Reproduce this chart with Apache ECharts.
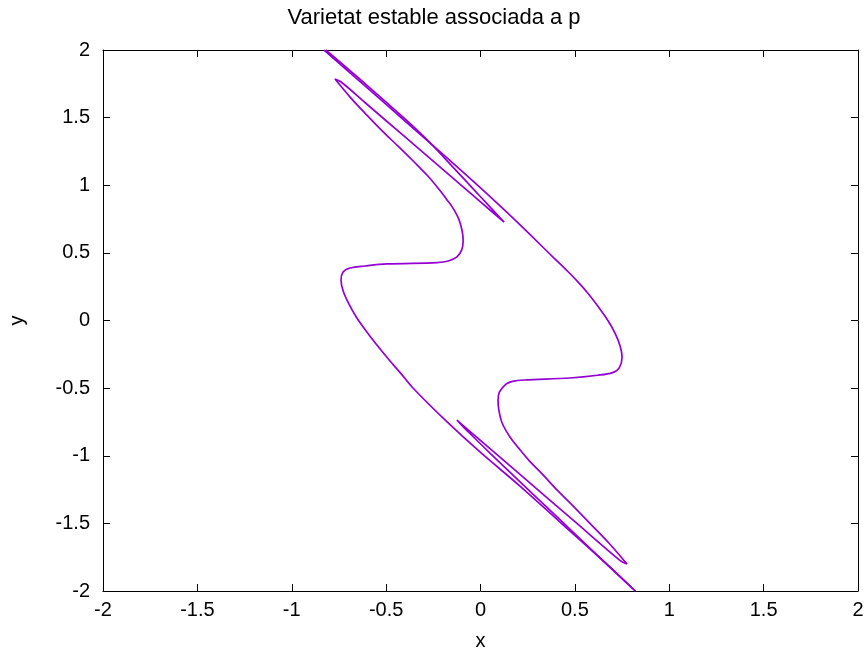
<!DOCTYPE html>
<html>
<head>
<meta charset="utf-8">
<script src="https://cdn.jsdelivr.net/npm/echarts@6/dist/echarts.min.js"></script>
<style>
  html, body { margin: 0; padding: 0; background: #fff; }
  #chart { width: 868px; height: 655px; }
</style>
</head>
<body>
<div id="chart"></div>
<script>
'use strict';

// Branch from the top end: down the band, round the right side of the S, into the lower loop
const branchA = [
  [-0.829, 2.0], [-0.6, 1.72], [-0.4, 1.475], [-0.2, 1.23], [0.0, 0.98],
  [0.2, 0.72], [0.384, 0.469], [0.45, 0.38], [0.51, 0.295], [0.57, 0.20],
  [0.625, 0.10], [0.675, 0.0], [0.715, -0.10], [0.74, -0.19], [0.750, -0.27],
  [0.735, -0.35], [0.70, -0.385], [0.62, -0.405], [0.474, -0.425], [0.23, -0.44],
  [0.17, -0.45], [0.135, -0.47], [0.10, -0.53], [0.093, -0.59], [0.097, -0.66],
  [0.115, -0.76], [0.156, -0.861], [0.20, -0.94], [0.26, -1.04], [0.33, -1.14],
  [0.41, -1.26], [0.50, -1.385], [0.59, -1.515], [0.68, -1.645], [0.776, -1.80],
  [0.74, -1.775], [0.5, -1.487], [0.2, -1.127], [-0.05, -0.827], [-0.125, -0.736],
  [-0.06, -0.83], [0.05, -0.98], [0.2, -1.18], [0.4, -1.445], [0.6, -1.71],
  [0.82, -2.0]
];

// Branch from the bottom end: up the band, round the left side of the S, into the upper loop
const branchB = [
  [0.820, -2.0], [0.633, -1.756], [0.421, -1.490], [0.209, -1.224], [-0.003, -0.972],
  [-0.177, -0.750], [-0.358, -0.499], [-0.42, -0.395], [-0.485, -0.29], [-0.55, -0.18],
  [-0.61, -0.07], [-0.66, 0.03], [-0.70, 0.13], [-0.728, 0.22], [-0.739, 0.30],
  [-0.728, 0.359], [-0.691, 0.388], [-0.612, 0.403], [-0.495, 0.418], [-0.23, 0.428],
  [-0.17, 0.44], [-0.125, 0.47], [-0.10, 0.52], [-0.092, 0.59], [-0.097, 0.66],
  [-0.115, 0.75], [-0.15, 0.84], [-0.177, 0.891], [-0.22, 0.97], [-0.28, 1.07],
  [-0.35, 1.17], [-0.43, 1.28], [-0.52, 1.40], [-0.61, 1.53], [-0.69, 1.65],
  [-0.771, 1.785], [-0.74, 1.765], [-0.6, 1.597], [-0.4, 1.357], [-0.2, 1.117],
  [0.0, 0.877], [0.1, 0.757], [0.125, 0.728], [0.05, 0.84], [-0.05, 0.99],
  [-0.15, 1.14], [-0.268, 1.315], [-0.4, 1.49], [-0.6, 1.737], [-0.82, 2.0]
];

const AXIS_MIN = -2;
const AXIS_MAX = 2;
const AXIS_STEP = 0.5;

const FONT = 'Liberation Sans, Arial, sans-serif';
const INK = '#000';
const PURPLE = '#9400d3';

const tickAxis = (extra) => Object.assign({
  type: 'value',
  min: AXIS_MIN,
  max: AXIS_MAX,
  interval: AXIS_STEP,
  axisLine: { show: true, onZero: false, lineStyle: { color: INK, width: 1 } },
  axisTick: { show: true, inside: true, length: 7, lineStyle: { color: INK } },
  splitLine: { show: false },
}, extra);

const label = { color: INK, fontFamily: FONT, fontSize: 20 };

const chart = echarts.init(document.getElementById('chart'), null, { renderer: 'canvas' });
chart.setOption({
  animation: false,
  backgroundColor: '#fff',
  title: {
    text: 'Varietat estable associada a p',
    left: 'center',
    top: 2,
    textStyle: { color: INK, fontFamily: FONT, fontSize: 22, fontWeight: 'normal' },
  },
  // fixed plot box; keep v6 from shrinking it to fit the edge labels
  grid: { left: 103, right: 10, top: 50, bottom: 64, containLabel: false, outerBoundsMode: 'none' },
  xAxis: [
    tickAxis({
      position: 'bottom',
      name: 'x',
      nameLocation: 'middle',
      nameGap: 40,
      nameTextStyle: label,
      axisLabel: Object.assign({ margin: 9 }, label),
    }),
    tickAxis({ position: 'top', axisLabel: { show: false } }),
  ],
  yAxis: [
    tickAxis({
      position: 'left',
      name: 'y',
      nameLocation: 'middle',
      nameGap: 76,
      nameTextStyle: label,
      axisLabel: Object.assign({ margin: 13 }, label),
    }),
    tickAxis({ position: 'right', axisLabel: { show: false } }),
  ],
  series: [branchA, branchB].map((data) => ({
    type: 'line',
    data,
    showSymbol: false,
    smooth: 0.35,
    clip: true,
    lineStyle: { color: PURPLE, width: 1.7 },
  })),
});
</script>
</body>
</html>
